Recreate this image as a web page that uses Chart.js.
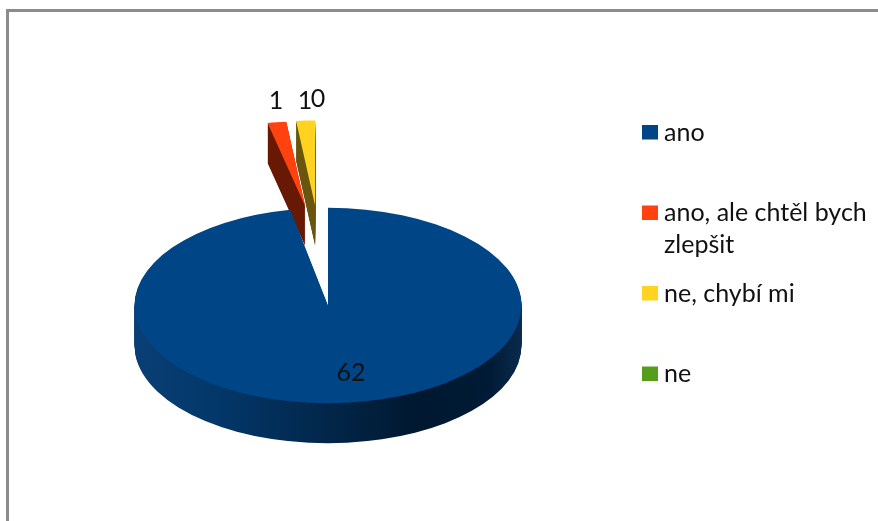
<!DOCTYPE html>
<html><head><meta charset="utf-8">
<style>html,body{margin:0;padding:0;background:#fff}canvas{display:block}</style>
<script src="https://cdn.jsdelivr.net/npm/chart.js@4/dist/chart.umd.min.js"></script>
</head><body><canvas id="c" width="878" height="521"></canvas>
<script>
const categories = ["ano", "ano, ale chtěl bych zlepšit", "ne, chybí mi", "ne"];
const values = [62, 1, 1, 0];
const faceColors = ["#004586", "#ff420e", "#ffd320", "#579d1c"];
const wallColors = [null, "#691a04", "#6b5710", "#2c4f0e"];

const FONT = '25px Lato, "Open Sans", sans-serif';
const DEPTH = 40, SQUASH = 0.505, EXPLODED_SQUASH = 0.44;
const EXPLODE = 100, EXPLODE_SHIFT = -8;

function blueWall(ctx, x0, x1) {
  const g = ctx.createLinearGradient(x0, 0, x1, 0);
  g.addColorStop(0, "#0a3f75");
  g.addColorStop(0.2, "#03386b");
  g.addColorStop(0.5, "#02264a");
  g.addColorStop(0.72, "#001830");
  g.addColorStop(0.92, "#001b36");
  g.addColorStop(1, "#0a2a4c");
  return g;
}

function paintSlice(ctx, el, color, tx, ty, sq) {
  const saved = el.options;
  el.options = Object.assign({}, saved, {backgroundColor: color});
  ctx.save();
  ctx.translate(el.x + tx, el.y + ty);
  ctx.scale(1, sq);
  ctx.translate(-el.x, -el.y);
  el.draw(ctx);
  ctx.restore();
  el.options = saved;
}

function drawSolid(ctx, el, i) {
  const exploded = i !== 0;
  const mid = (el.startAngle + el.endAngle) / 2;
  const tx = exploded ? Math.cos(mid) * EXPLODE + EXPLODE_SHIFT : 0;
  const ty = exploded ? Math.sin(mid) * EXPLODE : 0;
  const sq = exploded ? EXPLODED_SQUASH : SQUASH;
  const wall = exploded ? wallColors[i] : blueWall(ctx, el.x - el.outerRadius, el.x + el.outerRadius);
  for (let d = DEPTH; d >= 1; d--) paintSlice(ctx, el, wall, tx, ty + d, sq);
  paintSlice(ctx, el, faceColors[i], tx, ty, sq);
}

const pie3d = {
  id: "pie3d",
  beforeDraw(chart) {
    const ctx = chart.ctx;
    ctx.save();
    ctx.fillStyle = "#fff";
    ctx.fillRect(0, 0, chart.width, chart.height);
    ctx.fillStyle = "#8c8c8c";
    ctx.fillRect(6, 9, chart.width - 6, 3);
    ctx.fillRect(6, 9, 3, chart.height - 9);
    ctx.restore();
  },
  beforeDatasetsDraw(chart) {
    const ctx = chart.ctx;
    const arcs = chart.getDatasetMeta(0).data;
    [1, 2, 3, 0].forEach(i => { if (values[i] > 0) drawSolid(ctx, arcs[i], i); });
    return false;
  },
  afterDraw(chart) {
    const ctx = chart.ctx;
    const c = chart.getDatasetMeta(0).data[0];
    ctx.save();
    ctx.font = FONT;
    ctx.fillStyle = "#111";
    ctx.textBaseline = "alphabetic";
    // value labels, placed relative to the pie centre
    ctx.textAlign = "center";
    const labelAt = [[23, 75], [-52, -197], [-23, -197], [-10, -199]];
    values.forEach((v, i) => ctx.fillText(String(v), c.x + labelAt[i][0], c.y + labelAt[i][1]));
    // legend
    ctx.textAlign = "left";
    categories.forEach((name, i) => {
      const top = 125 + i * 80.5;
      ctx.fillStyle = faceColors[i];
      ctx.fillRect(642, top, 16, 14.5);
      ctx.fillStyle = "#111";
      const lines = [];
      let line = "";
      name.split(" ").forEach(w => {
        const t = line ? line + " " + w : w;
        if (ctx.measureText(t).width > 215 && line) { lines.push(line); line = w; } else line = t;
      });
      lines.push(line);
      lines.forEach((l, k) => ctx.fillText(l, 664, top + 15.5 + k * 32));
    });
    ctx.restore();
  }
};

new Chart(document.getElementById("c"), {
  type: "pie",
  plugins: [pie3d],
  data: {
    labels: categories,
    datasets: [{data: values, backgroundColor: faceColors, borderWidth: 0, clip: false}]
  },
  options: {
    responsive: false,
    animation: false,
    radius: 193.5,
    layout: {padding: {left: 0, right: 222, top: 90, bottom: 0}},
    plugins: {legend: {display: false}, tooltip: {enabled: false}}
  }
});
</script></body></html>
